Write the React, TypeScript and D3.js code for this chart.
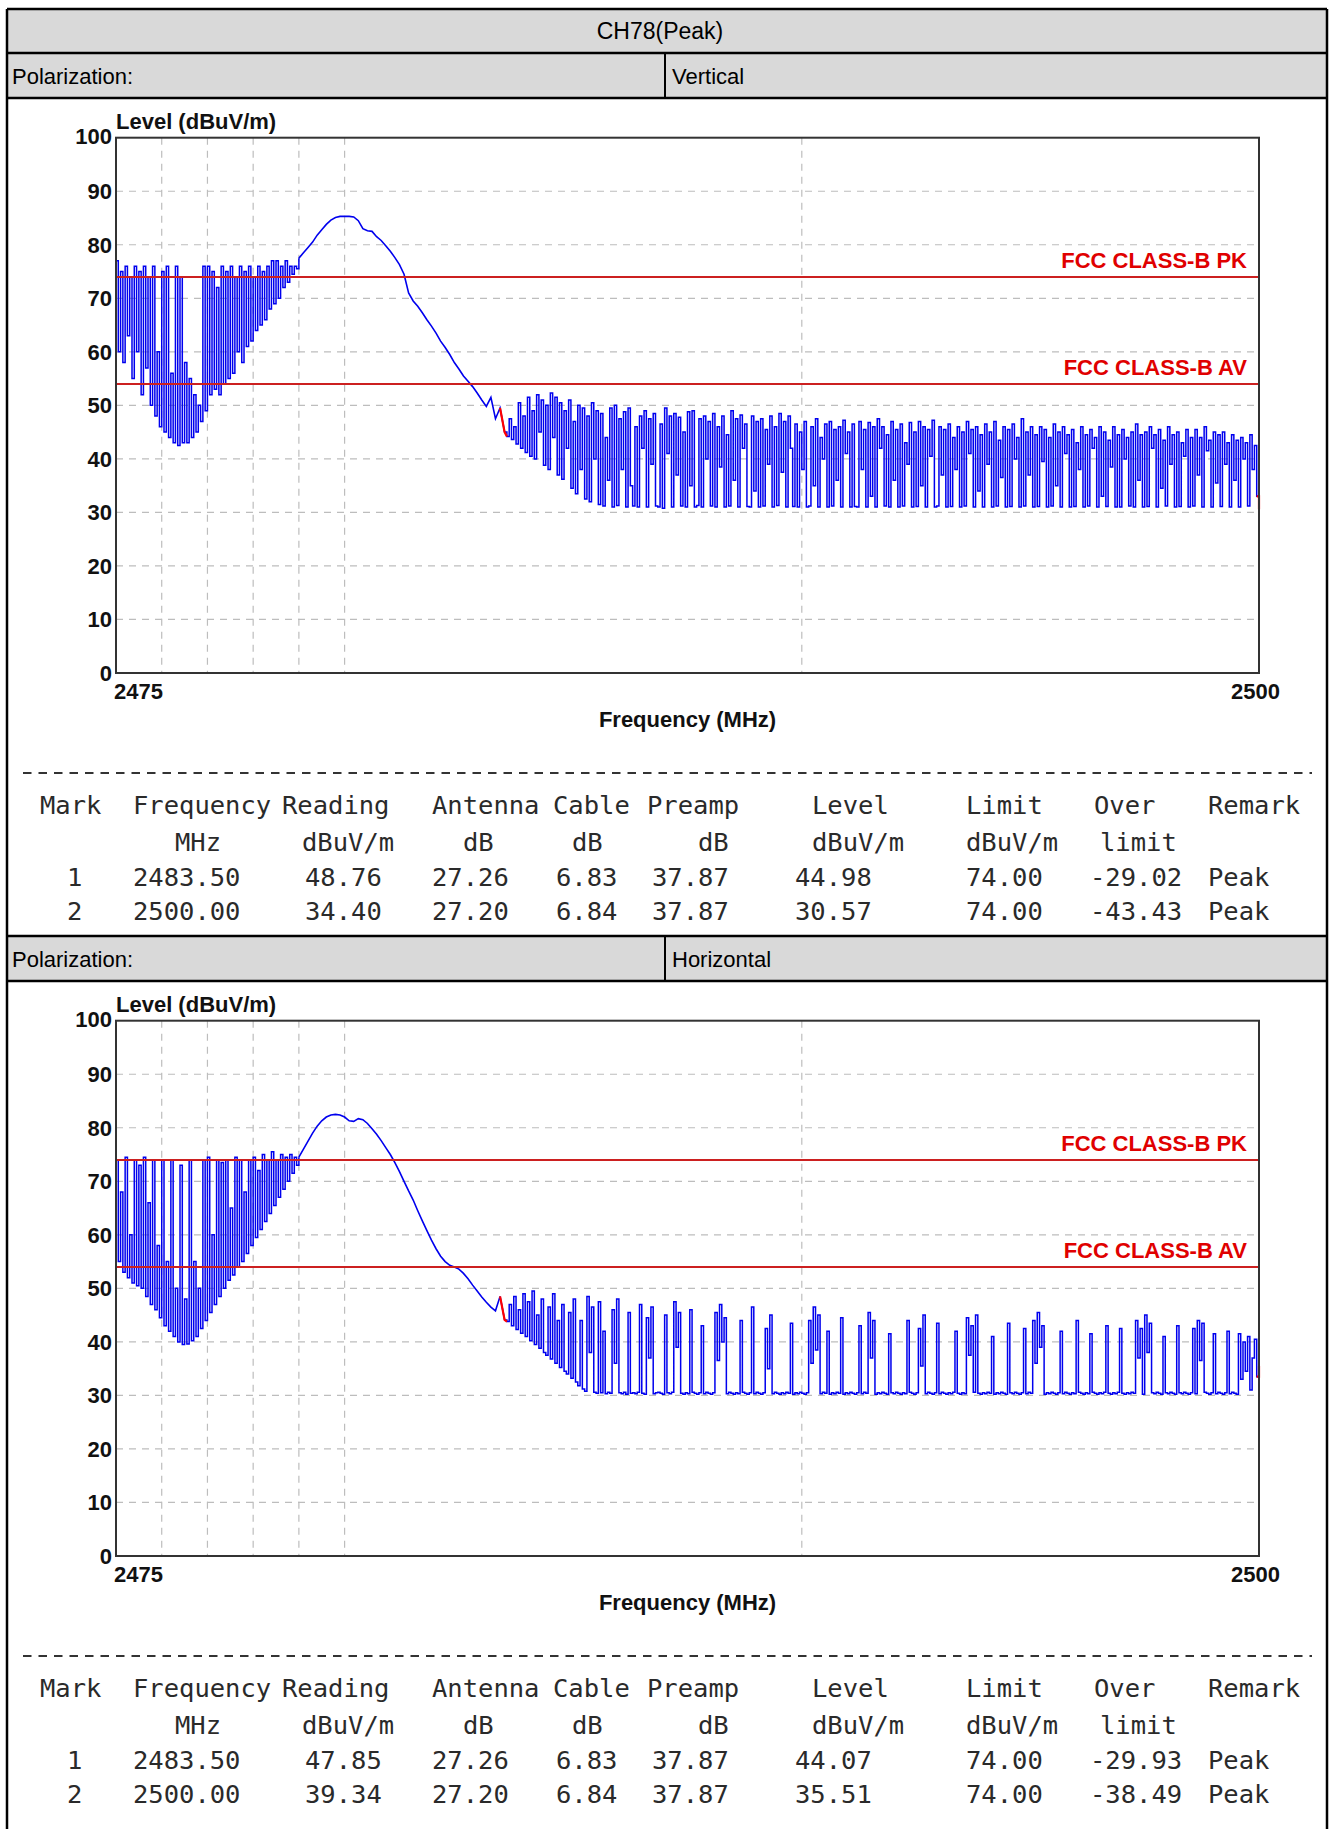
import React from 'react';
import * as d3 from 'd3';

// ---------- data ----------
const TITLE = 'CH78(Peak)';
const POL_LABEL = 'Polarization:';
const POLARIZATIONS = ['Vertical', 'Horizontal'];

const X_DOMAIN = [2475, 2500];
const Y_DOMAIN = [0, 100];
const Y_TICKS = [0, 10, 20, 30, 40, 50, 60, 70, 80, 90, 100];
const X_GRID = [2476, 2477, 2478, 2479, 2480, 2490];
const X_TICK_LABELS = ['2475', '2500'];
const LIMIT_VALUES = [74, 54];
const LIMIT_LABELS = ['FCC CLASS-B PK', 'FCC CLASS-B AV'];
const MARKER_FREQS = [2483.5, 2500];

// trace segments: [start MHz, step MHz]
const LEFT_START = 2475.0, LEFT_STEP = 0.05;
const SMOOTH_START = 2479.0, SMOOTH_STEP = 0.1;
const NOISE_START = 2483.55, NOISE_STEP = 0.05;

// Vertical polarization trace
const vLeft = [
  77, 60, 75, 58, 76, 63, 74, 55, 76, 60,
  75, 52, 76, 57, 74, 50, 76, 48, 60, 46,
  75, 45, 76, 44, 56, 43, 76, 42.5, 74, 43,
  58, 43, 55, 44, 52, 45, 50, 47, 76, 49,
  76, 52, 75, 53, 72, 52, 76, 54, 75, 55,
  76, 56, 74, 60, 76, 58, 75, 61, 76, 62,
  74, 64, 76, 65, 75, 66, 76, 68, 77, 69,
  77, 70, 76, 72, 77, 73, 76, 74.5, 76, 75.5,
];
const vSmooth = [
  77.5, 78.5, 79.5, 80.5, 81.8, 82.8, 83.8, 84.6, 85.1, 85.3,
  85.3, 85.3, 85.2, 84.5, 83.0, 82.6, 82.5, 81.5, 80.8, 79.8,
  78.8, 77.6, 76.3, 74.5, 71.0, 69.5, 68.5, 67.3, 66.0, 64.8,
  63.5, 62.0, 60.8, 59.5, 58.0, 56.8, 55.5, 54.5, 53.5, 52.3,
  51.0, 49.8, 51.5, 47.5, 49.5, 45.0,
];
const vNoise = [
  44.2, 47.5, 43.6, 46.0, 42.8, 50.5, 42.0, 48.0, 41.2, 51.5,
  40.5, 49.0, 40.0, 52.0, 45.0, 51.0, 38.8, 50.0, 38.0, 52.3,
  44.0, 51.5, 37.0, 50.5, 36.2, 49.0, 42.0, 51.0, 34.5, 47.0,
  33.5, 50.0, 38.0, 49.5, 32.5, 48.0, 32.0, 50.5, 40.0, 49.0,
  31.5, 48.5, 31.2, 44.0, 36.0, 49.5, 31.0, 50.0, 31.3, 47.5,
  38.0, 48.8, 31.0, 49.5, 35.0, 31.2, 46.0, 31.0, 48.0, 42.0,
  49.0, 31.0, 47.5, 39.0, 48.5, 31.2, 31.0, 46.5, 30.8, 49.5,
  41.0, 48.0, 31.0, 48.5, 37.0, 47.8, 31.2, 45.0, 31.0, 48.8,
  35.0, 49.0, 31.0, 31.3, 47.5, 31.0, 48.0, 40.0, 47.0, 31.2,
  48.5, 31.0, 46.0, 38.5, 48.0, 31.0, 44.5, 31.2, 49.0, 36.0,
  47.5, 31.0, 48.2, 42.0, 46.5, 31.1, 31.0, 48.0, 34.0, 47.0,
  31.0, 47.5, 31.2, 45.5, 39.0, 48.0, 31.0, 46.0, 31.3, 48.5,
  37.5, 47.0, 31.0, 48.0, 42.0, 31.1, 46.5, 31.0, 45.0, 38.0,
  47.0, 31.0, 31.2, 46.0, 35.0, 47.5, 31.0, 44.0, 40.0, 46.5,
  31.0, 47.0, 31.2, 45.5, 36.0, 46.0, 31.0, 47.2, 41.0, 45.0,
  31.0, 46.5, 31.1, 31.0, 47.0, 38.0, 45.5, 31.0, 46.8, 33.0,
  46.0, 31.0, 47.5, 42.0, 46.0, 31.2, 44.5, 31.0, 47.0, 36.0,
  45.5, 31.0, 46.5, 31.2, 43.0, 39.0, 46.8, 31.0, 45.0, 31.1,
  47.0, 35.0, 46.0, 31.0, 45.5, 40.5, 47.2, 31.0, 31.2, 46.0,
  37.0, 45.5, 31.0, 46.5, 31.1, 44.0, 38.0, 46.0, 31.0, 45.0,
  31.2, 47.0, 41.0, 45.5, 31.0, 46.0, 34.0, 44.5, 31.0, 46.5,
  39.0, 45.0, 31.0, 47.0, 31.2, 43.5, 36.5, 46.0, 31.0, 45.5,
  31.1, 46.5, 40.0, 44.0, 31.0, 47.5, 31.2, 45.0, 37.0, 46.0,
  31.0, 44.5, 31.1, 46.0, 39.5, 45.5, 31.0, 44.0, 31.2, 46.5,
  35.0, 45.0, 31.0, 46.0, 41.0, 44.5, 31.0, 45.5, 31.1, 43.0,
  38.0, 46.0, 31.0, 44.5, 31.2, 45.5, 42.0, 44.0, 31.0, 46.0,
  33.0, 45.0, 31.1, 43.5, 38.5, 46.0, 31.0, 44.5, 31.0, 45.5,
  40.0, 44.0, 31.2, 45.0, 31.0, 46.5, 36.0, 44.5, 31.0, 45.0,
  31.1, 46.0, 42.0, 44.5, 31.0, 45.5, 34.5, 43.5, 31.2, 46.0,
  39.0, 44.5, 31.0, 45.0, 31.1, 43.0, 40.5, 45.5, 31.0, 44.0,
  31.2, 45.5, 37.0, 44.0, 31.0, 46.0, 41.5, 43.5, 31.0, 45.0,
  35.5, 44.5, 31.1, 45.0, 39.0, 43.0, 31.0, 44.5, 36.0, 43.5,
  31.0, 44.0, 40.0, 43.0, 31.2, 44.5, 38.0, 42.5, 33.0, 30.6,
];

// Horizontal polarization trace
const hLeft = [
  74, 55, 68, 53, 74.5, 52, 60, 51, 74, 50.5,
  73, 50, 74.5, 48.5, 66, 47, 74, 46, 58, 44.5,
  74, 43, 55, 42, 74, 41, 50, 40, 73, 39.5,
  48, 39.6, 74, 40.2, 55, 41, 50, 42.5, 74, 44,
  74.5, 45.5, 60, 47, 74, 48.5, 73.5, 50, 74, 51.5,
  65, 52.5, 74.5, 54, 74, 55, 68, 56.5, 74, 58,
  74.5, 59.5, 72, 61, 75, 62.5, 74, 64, 75.5, 65.5,
  74, 67, 75, 68.5, 74.5, 70, 75, 71.5, 74.5, 73,
];
const hSmooth = [
  74.5, 76.0, 77.5, 79.0, 80.3, 81.3, 82.0, 82.4, 82.5, 82.4,
  82.0, 81.3, 81.2, 81.7, 81.5, 80.8, 79.8, 78.8, 77.6, 76.3,
  75.0, 73.5, 71.8, 70.0, 68.2, 66.5, 64.5, 62.6, 60.8, 59.0,
  57.4, 56.0, 55.0, 54.3, 54.0, 53.6, 52.8, 51.8, 50.6, 49.5,
  48.4, 47.4, 46.5, 45.8, 48.5, 44.1,
];
const hNoise = [
  43.8, 47.0, 43.0, 48.5, 42.3, 46.0, 41.6, 49.0, 41.0, 47.5,
  40.2, 49.5, 39.5, 45.0, 38.8, 48.0, 38.0, 37.5, 46.5, 36.8,
  49.0, 36.0, 44.0, 35.2, 47.0, 34.5, 34.0, 45.5, 33.2, 48.0,
  32.5, 31.8, 44.0, 31.2, 30.8, 48.5, 38.0, 46.5, 30.6, 30.4,
  47.5, 30.5, 42.0, 30.3, 30.6, 30.4, 46.0, 36.0, 48.0, 30.5,
  30.3, 30.6, 30.2, 45.5, 30.4, 30.5, 30.3, 30.6, 47.0, 30.4,
  30.2, 44.5, 37.0, 46.5, 30.3, 30.5, 30.6, 30.4, 30.2, 45.0,
  30.5, 30.3, 30.6, 47.5, 39.0, 45.5, 30.4, 30.2, 30.5, 30.3,
  46.0, 30.6, 30.4, 30.2, 30.5, 43.0, 30.3, 30.6, 30.4, 30.2,
  30.5, 45.5, 36.5, 47.0, 40.0, 44.5, 30.3, 30.6, 30.4, 30.2,
  30.5, 30.3, 44.0, 30.6, 30.4, 30.2, 30.5, 46.5, 30.3, 30.6,
  30.4, 30.2, 30.5, 42.5, 35.0, 45.0, 30.3, 30.6, 30.4, 30.2,
  30.5, 30.3, 30.6, 30.4, 43.5, 30.2, 30.5, 30.3, 30.6, 30.4,
  30.2, 30.5, 44.0, 36.0, 46.5, 38.5, 45.0, 30.3, 30.6, 30.4,
  42.0, 30.2, 30.5, 30.3, 30.6, 30.4, 44.5, 30.2, 30.5, 30.3,
  30.6, 30.4, 30.2, 30.5, 43.0, 30.3, 30.6, 30.4, 45.5, 37.0,
  44.0, 30.2, 30.5, 30.3, 30.6, 30.4, 30.2, 41.5, 30.5, 30.3,
  30.6, 30.4, 30.2, 30.5, 30.3, 44.0, 30.6, 30.4, 30.2, 30.5,
  42.5, 35.5, 45.0, 30.3, 30.6, 30.4, 30.2, 30.5, 43.5, 30.3,
  30.6, 30.4, 30.2, 30.5, 30.3, 30.6, 42.0, 30.4, 30.2, 30.5,
  30.3, 44.5, 37.5, 43.0, 30.6, 45.0, 30.4, 30.2, 30.5, 30.3,
  30.6, 30.4, 41.0, 30.2, 30.5, 30.3, 30.6, 30.4, 30.2, 43.5,
  30.5, 30.3, 30.6, 30.4, 30.2, 30.5, 42.5, 30.3, 30.6, 30.4,
  44.0, 36.0, 45.5, 39.0, 43.0, 30.2, 30.5, 30.3, 30.6, 30.4,
  30.2, 30.5, 42.0, 30.3, 30.6, 30.4, 30.2, 30.5, 30.3, 44.0,
  30.6, 30.4, 30.2, 30.5, 30.3, 41.5, 30.6, 30.4, 30.2, 30.5,
  30.3, 30.6, 43.0, 30.4, 30.2, 30.5, 30.3, 30.6, 42.5, 30.4,
  30.2, 30.5, 30.3, 30.6, 30.4, 44.0, 37.0, 42.5, 30.2, 45.0,
  38.0, 43.5, 30.5, 30.3, 30.6, 30.4, 30.2, 41.0, 30.5, 30.3,
  30.6, 30.4, 30.2, 43.0, 30.5, 30.3, 30.6, 30.4, 30.2, 30.5,
  42.5, 30.3, 44.0, 36.5, 43.5, 30.6, 30.4, 30.2, 30.5, 41.5,
  30.3, 30.6, 30.4, 30.2, 30.5, 42.0, 30.3, 30.6, 30.4, 30.2,
  41.5, 33.0, 40.0, 34.5, 41.0, 31.0, 37.0, 40.5, 33.5, 35.5,
];

// table data
const HEADER_1 = ['Mark', 'Frequency', 'Reading', 'Antenna', 'Cable', 'Preamp', 'Level', 'Limit', 'Over', 'Remark'];
const HEADER_2 = ['', 'MHz', 'dBuV/m', 'dB', 'dB', 'dB', 'dBuV/m', 'dBuV/m', 'limit', ''];
const V_ROWS = [
  ['1', '2483.50', '48.76', '27.26', '6.83', '37.87', '44.98', '74.00', '-29.02', 'Peak'],
  ['2', '2500.00', '34.40', '27.20', '6.84', '37.87', '30.57', '74.00', '-43.43', 'Peak'],
];
const H_ROWS = [
  ['1', '2483.50', '47.85', '27.26', '6.83', '37.87', '44.07', '74.00', '-29.93', 'Peak'],
  ['2', '2500.00', '39.34', '27.20', '6.84', '37.87', '35.51', '74.00', '-38.49', 'Peak'],
];

// ---------- layout ----------
const W = 1336, H = 1829;
const SECTION = 883;
const TBL_L = 7, TBL_R = 1327, DIVIDER_X = 665;
const PLOT_L = 116, PLOT_R = 1259, PLOT_T = 137.7, PLOT_B = 673;
const HDR1_X = [40, 133, 282, 432, 553, 647, 812, 966, 1094, 1208];
const HDR2_X = [0, 175, 302, 463, 572, 698, 812, 966, 1100, 0];
const ROW_X = [67, 133, 305, 432, 556, 652, 795, 966, 1090, 1208];
const TEXT_Y = [814, 851, 886, 920];

const SANS = '"Liberation Sans", Arial, sans-serif';
const MONO = '"DejaVu Sans Mono", monospace';

type Pt = [number, number];

function toPoints(values: number[], start: number, step: number): Pt[] {
  return values.map((v, i) => [Math.round((start + i * step) * 1000) / 1000, v] as Pt);
}

function Chart({ offset, left, smooth, noise }: { offset: number; left: number[]; smooth: number[]; noise: number[] }) {
  const x = d3.scaleLinear().domain(X_DOMAIN).range([PLOT_L, PLOT_R]);
  const y = d3.scaleLinear().domain(Y_DOMAIN).range([PLOT_B + offset, PLOT_T + offset]);
  const leftPts = toPoints(left, LEFT_START, LEFT_STEP);
  const smoothPts = toPoints(smooth, SMOOTH_START, SMOOTH_STEP);
  const noisePts = toPoints(noise, NOISE_START, NOISE_STEP);
  const all = [...leftPts, ...smoothPts, ...noisePts];
  const stepLine = d3.line<Pt>().x(d => x(d[0])).y(d => y(d[1])).curve(d3.curveStepAfter);
  const linLine = d3.line<Pt>().x(d => x(d[0])).y(d => y(d[1]));
  const red1 = all.filter(p => p[0] >= MARKER_FREQS[0] - 0.11 && p[0] <= MARKER_FREQS[0] + 0.06);
  const red2 = all.filter(p => p[0] >= MARKER_FREQS[1] - 0.06);
  const blue = '#0000ee';
  return (
    <g>
      {Y_TICKS.filter(t => t > 0 && t < 100).map(t => (
        <line key={'hg' + t} x1={PLOT_L} x2={PLOT_R} y1={y(t)} y2={y(t)} stroke="#bdbdbd" strokeWidth={1.2} strokeDasharray="7 6" />
      ))}
      {X_GRID.map(f => (
        <line key={'vg' + f} x1={x(f)} x2={x(f)} y1={y(100)} y2={y(0)} stroke="#bdbdbd" strokeWidth={1.2} strokeDasharray="7 6" />
      ))}
      <path d={stepLine([...leftPts, smoothPts[0]]) || ''} fill="none" stroke={blue} strokeWidth={1.5} />
      <path d={linLine(smoothPts) || ''} fill="none" stroke={blue} strokeWidth={1.6} />
      <path d={stepLine([smoothPts[smoothPts.length - 1], ...noisePts]) || ''} fill="none" stroke={blue} strokeWidth={1.5} />
      <path d={linLine(red1) || ''} fill="none" stroke="#ff0000" strokeWidth={2.2} />
      <path d={stepLine(red2) || ''} fill="none" stroke="#ff0000" strokeWidth={2.2} />
      {LIMIT_VALUES.map((v, i) => (
        <g key={'lim' + i}>
          <line x1={PLOT_L} x2={PLOT_R} y1={y(v)} y2={y(v)} stroke="#cc2020" strokeWidth={2} />
          <text x={1247} y={y(v) - 8.5} textAnchor="end" fontFamily={SANS} fontWeight="bold" fontSize={22} fill="#e00000">{LIMIT_LABELS[i]}</text>
        </g>
      ))}
      <rect x={PLOT_L} y={y(100)} width={PLOT_R - PLOT_L} height={y(0) - y(100)} fill="none" stroke="#333" strokeWidth={2} />
      {Y_TICKS.map(t => (
        <text key={'yl' + t} x={112} y={y(t) - (t === 100 ? 2 : 0)} dy="0.36em" textAnchor="end" fontFamily={SANS} fontWeight="bold" fontSize={22} fill="#111">{t}</text>
      ))}
      <text x={PLOT_L} y={y(100) - 9} fontFamily={SANS} fontWeight="bold" fontSize={22} fill="#111">Level (dBuV/m)</text>
      <text x={114} y={699 + offset} fontFamily={SANS} fontWeight="bold" fontSize={22} fill="#111">{X_TICK_LABELS[0]}</text>
      <text x={1231} y={699 + offset} fontFamily={SANS} fontWeight="bold" fontSize={22} fill="#111">{X_TICK_LABELS[1]}</text>
      <text x={(PLOT_L + PLOT_R) / 2} y={727 + offset} textAnchor="middle" fontFamily={SANS} fontWeight="bold" fontSize={22} fill="#111">Frequency (MHz)</text>
    </g>
  );
}

function ResultTable({ offset, rows }: { offset: number; rows: string[][] }) {
  const lines = [HEADER_1, HEADER_2, ...rows];
  const xs = [HDR1_X, HDR2_X, ROW_X, ROW_X];
  return (
    <g fontFamily={MONO} fontSize={25.5} fill="#2a2a2a">
      <line x1={23} x2={1312} y1={773 + offset} y2={773 + offset} stroke="#333" strokeWidth={2} strokeDasharray="8.5 7" />
      {lines.map((ln, r) => ln.map((cell, c) => cell ? (
        <text key={r + '-' + c} x={xs[r][c]} y={TEXT_Y[r] + offset}>{cell}</text>
      ) : null))}
    </g>
  );
}

export default function App() {
  const sections = [
    { pol: POLARIZATIONS[0], left: vLeft, smooth: vSmooth, noise: vNoise, rows: V_ROWS },
    { pol: POLARIZATIONS[1], left: hLeft, smooth: hSmooth, noise: hNoise, rows: H_ROWS },
  ];
  return (
    <svg width={W} height={H} style={{ position: 'absolute', left: 0, top: 0, background: '#fff' }}>
      <rect x={0} y={0} width={W} height={H} fill="#fff" />
      <rect x={TBL_L} y={9} width={TBL_R - TBL_L} height={44} fill="#d9d9d9" />
      <text x={660} y={39} textAnchor="middle" fontFamily={SANS} fontSize={23} fill="#000">{TITLE}</text>
      {sections.map((s, k) => {
        const off = k * SECTION;
        return (
          <g key={k}>
            <rect x={TBL_L} y={53 + off} width={TBL_R - TBL_L} height={45} fill="#d9d9d9" />
            <text x={12} y={83.5 + off} fontFamily={SANS} fontSize={22} fill="#000">{POL_LABEL}</text>
            <text x={DIVIDER_X + 7} y={83.5 + off} fontFamily={SANS} fontSize={22} fill="#000">{s.pol}</text>
            <line x1={DIVIDER_X} x2={DIVIDER_X} y1={53 + off} y2={98 + off} stroke="#000" strokeWidth={2} />
            <line x1={TBL_L} x2={TBL_R} y1={53 + off} y2={53 + off} stroke="#000" strokeWidth={2.5} />
            <line x1={TBL_L} x2={TBL_R} y1={98 + off} y2={98 + off} stroke="#000" strokeWidth={2.5} />
            <Chart offset={off} left={s.left} smooth={s.smooth} noise={s.noise} />
            <ResultTable offset={off} rows={s.rows} />
          </g>
        );
      })}
      <line x1={TBL_L} x2={TBL_R} y1={9} y2={9} stroke="#000" strokeWidth={2.5} />
      <line x1={TBL_L} x2={TBL_L} y1={9} y2={H} stroke="#000" strokeWidth={2.5} />
      <line x1={TBL_R} x2={TBL_R} y1={9} y2={H} stroke="#000" strokeWidth={2.5} />
    </svg>
  );
}
